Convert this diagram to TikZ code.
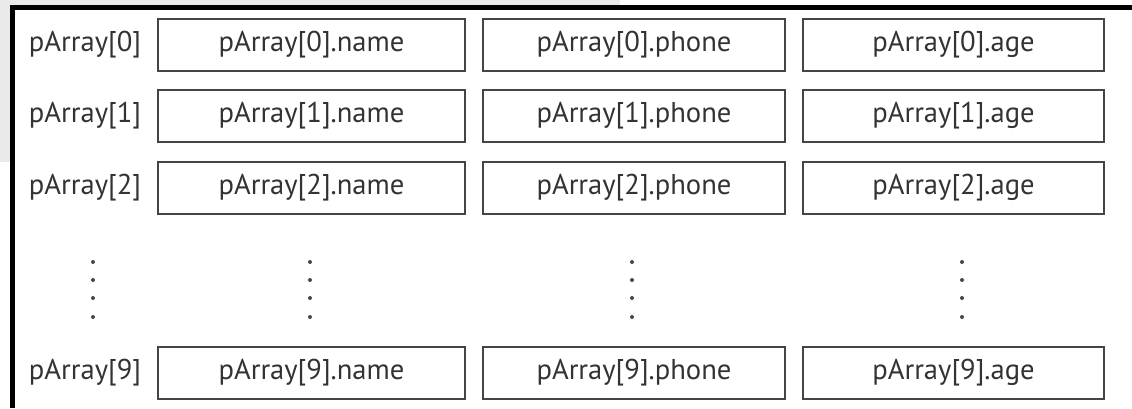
\documentclass[tikz,border=0pt]{standalone}
\usepackage{fontspec}
\setmainfont{PT Sans}
\definecolor{boxline}{HTML}{454545}
\definecolor{ink}{HTML}{333333}
\definecolor{backgray}{HTML}{EAEAEA}
\begin{document}
\begin{tikzpicture}[x=0.5pt,y=-0.5pt]
        \tikzstyle{ptr}=[text=ink,font=\fontsize{14.3}{16}\selectfont,inner sep=0pt]
        \tikzstyle{field}=[rectangle,draw=boxline,line width=1pt,text=ink,font=\fontsize{14.3}{16}\selectfont,minimum height=26pt,inner sep=0pt]
        \tikzstyle{namebox}=[field,minimum width=153.5pt]
        \tikzstyle{phonebox}=[field,minimum width=151pt]
        \tikzstyle{agebox}=[field,minimum width=150.5pt]
        \tikzstyle{vdot}=[fill=ink!90]

        \useasboundingbox (0,0) rectangle (1132,408);

        % frame round the table
        \fill[backgray] (0,0) rectangle (620,162);
        \fill[white] (12,7.5) rectangle (1132,408);
        \draw[line width=2.5pt] (1132,7.5) -- (12,7.5) -- (12,408);

       \begin{scope}

         \node [ptr] (p0) at (85,44.5) {pArray[0]};
         \node [namebox] (n0) at (311.5,44.5) {pArray[0].name};
         \node [phonebox] (ph0) at (634,44.5) {pArray[0].phone};
         \node [agebox] (a0) at (953.5,44.5) {pArray[0].age};

         \node [ptr] (p1) at (85,116) {pArray[1]};
         \node [namebox] (n1) at (311.5,116) {pArray[1].name};
         \node [phonebox] (ph1) at (634,116) {pArray[1].phone};
         \node [agebox] (a1) at (953.5,116) {pArray[1].age};

         \node [ptr] (p2) at (85,188) {pArray[2]};
         \node [namebox] (n2) at (311.5,188) {pArray[2].name};
         \node [phonebox] (ph2) at (634,188) {pArray[2].phone};
         \node [agebox] (a2) at (953.5,188) {pArray[2].age};

         \node [ptr] (p9) at (85,372.5) {pArray[9]};
         \node [namebox] (n9) at (311.5,372.5) {pArray[9].name};
         \node [phonebox] (ph9) at (634,372.5) {pArray[9].phone};
         \node [agebox] (a9) at (953.5,372.5) {pArray[9].age};

         % dots between row 2 and row 9
         \foreach \x in {93,310,632,962}
           \foreach \y in {262,280,298,317}
             \fill[vdot] (\x,\y) circle (1pt);

        \end{scope}
      \end{tikzpicture}
\end{document}
